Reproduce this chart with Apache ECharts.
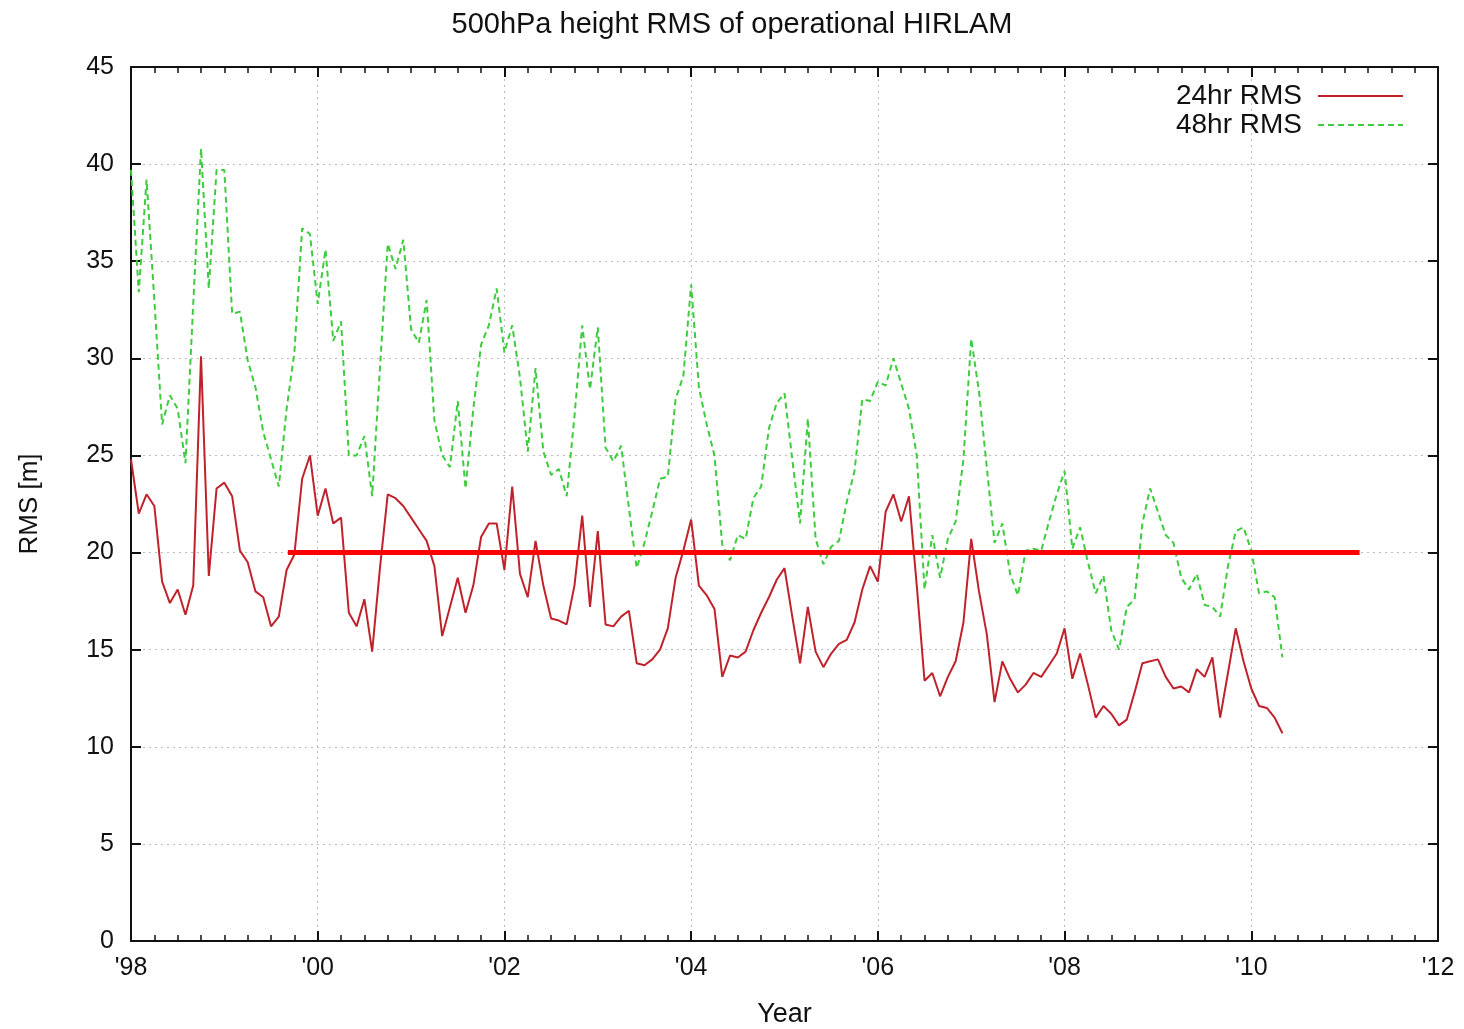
<!DOCTYPE html>
<html>
<head>
<meta charset="utf-8">
<title>500hPa height RMS of operational HIRLAM</title>
<script src="https://cdn.jsdelivr.net/npm/echarts@6/dist/echarts.min.js"></script>
<style>
    html, body { margin: 0; padding: 0; background: #fff; }
    #main { width: 1464px; height: 1029px; }
</style>
</head>
<body>
<div id="main"></div>
<script>
// monthly values, first point = Jan 1998
var startYear = 1998;
var rms24 = [
    24.8, 22.0, 23.0, 22.4, 18.5, 17.4, 18.1, 16.8, 18.3, 30.1, 18.8, 23.3,
    23.6, 22.9, 20.1, 19.5, 18.0, 17.7, 16.2, 16.7, 19.1, 19.9, 23.8, 25.0,
    21.9, 23.3, 21.5, 21.8, 16.9, 16.2, 17.6, 14.9, 19.2, 23.0, 22.8, 22.4,
    21.8, 21.2, 20.6, 19.3, 15.7, 17.2, 18.7, 16.9, 18.3, 20.8, 21.5, 21.5,
    19.1, 23.4, 18.9, 17.7, 20.6, 18.3, 16.6, 16.5, 16.3, 18.3, 21.9, 17.2,
    21.1, 16.3, 16.2, 16.7, 17.0, 14.3, 14.2, 14.5, 15.0, 16.1, 18.7, 20.1,
    21.7, 18.3, 17.8, 17.1, 13.6, 14.7, 14.6, 14.9, 16.0, 16.9, 17.7, 18.6,
    19.2, 16.7, 14.3, 17.2, 14.9, 14.1, 14.8, 15.3, 15.5, 16.4, 18.1, 19.3,
    18.5, 22.1, 23.0, 21.6, 22.9, 18.3, 13.4, 13.8, 12.6, 13.6, 14.4, 16.4,
    20.7, 18.0, 15.8, 12.3, 14.4, 13.5, 12.8, 13.2, 13.8, 13.6, 14.2, 14.8,
    16.1, 13.5, 14.8, 13.2, 11.5, 12.1, 11.7, 11.1, 11.4, 12.8, 14.3, 14.4,
    14.5, 13.6, 13.0, 13.1, 12.8, 14.0, 13.6, 14.6, 11.5, 13.8, 16.1, 14.4,
    13.0, 12.1, 12.0, 11.5, 10.7
];
var rms48 = [
    39.7, 33.4, 39.2, 33.0, 26.6, 28.1, 27.4, 24.6, 32.8, 40.8, 33.6, 39.7,
    39.7, 32.3, 32.4, 29.9, 28.5, 26.2, 24.8, 23.4, 27.4, 30.3, 36.7, 36.4,
    32.8, 35.6, 30.9, 31.9, 25.0, 25.0, 26.0, 22.9, 29.5, 35.9, 34.6, 36.1,
    31.5, 30.8, 33.0, 26.8, 25.0, 24.4, 27.8, 23.3, 27.4, 30.7, 31.7, 33.6,
    30.3, 31.7, 29.0, 25.2, 29.5, 25.2, 24.0, 24.3, 22.9, 27.0, 31.7, 28.4,
    31.6, 25.4, 24.7, 25.5, 22.3, 19.2, 20.5, 22.1, 23.8, 23.9, 27.9, 29.1,
    33.8, 28.5, 26.6, 25.0, 20.4, 19.6, 20.9, 20.7, 22.8, 23.4, 26.4, 27.7,
    28.2, 24.8, 21.5, 26.9, 20.7, 19.4, 20.3, 20.6, 22.6, 24.2, 27.9, 27.8,
    28.8, 28.6, 30.0, 28.7, 27.4, 25.0, 18.1, 20.9, 18.7, 20.7, 21.6, 24.8,
    31.0, 28.3, 24.4, 20.5, 21.5, 18.9, 17.8, 20.1, 20.2, 20.1, 21.6, 23.0,
    24.2, 20.2, 21.3, 19.5, 17.9, 18.8, 16.0, 15.0, 17.2, 17.6, 21.5, 23.3,
    22.1, 20.9, 20.5, 18.7, 18.1, 18.9, 17.3, 17.2, 16.7, 19.3, 21.1, 21.3,
    20.1, 17.9, 18.0, 17.7, 14.6
];
// red reference line at 20 m
var refX = [1999.68, 2011.16];
var refY = [20, 20];

var yTicks = [0, 5, 10, 15, 20, 25, 30, 35, 40, 45];

function toPairs(vals) {
    var out = [];
    for (var i = 0; i < vals.length; i++) {
        out.push([startYear + i / 12, vals[i]]);
    }
    return out;
}

var font = 'Liberation Sans, Arial, sans-serif';
var chart = echarts.init(document.getElementById('main'));

var xCommon = {
    type: 'value',
    min: 1998,
    max: 2012,
    interval: 2,
    axisLine: { show: true, onZero: false, lineStyle: { color: '#111', width: 2 } },
    axisTick: { show: true, inside: true, length: 10, lineStyle: { color: '#111', width: 2 } },
    minorTick: { show: true, splitNumber: 8, length: 6, lineStyle: { color: '#111', width: 1.5 } }
};

option = {
    backgroundColor: '#ffffff',
    animation: false,
    title: {
        text: '500hPa height RMS of operational HIRLAM',
        left: 'center',
        top: 5,
        textStyle: { fontFamily: font, fontSize: 29, fontWeight: 'normal', color: '#111' }
    },
    legend: {
        orient: 'vertical',
        right: 55,
        top: 77,
        align: 'right',
        itemWidth: 85,
        itemHeight: 14,
        itemGap: 1,
        data: ['24hr RMS', '48hr RMS'],
        itemStyle: { opacity: 0 },
        textStyle: { fontFamily: font, fontSize: 28, color: '#111', lineHeight: 28, padding: [0, 11, 0, 0] }
    },
    grid: { left: 131, right: 26, top: 67, bottom: 88, outerBoundsMode: 'none' },
    xAxis: [
        Object.assign({}, xCommon, {
            position: 'bottom',
            name: 'Year',
            nameLocation: 'middle',
            nameGap: 60,
            nameTextStyle: { fontFamily: font, fontSize: 27, color: '#111' },
            axisLabel: {
                fontFamily: font, fontSize: 25, color: '#111', margin: 15,
                formatter: function (v) { return "'" + String(v).slice(2); }
            },
            splitLine: { show: true, lineStyle: { color: '#bbb', type: [2, 4], width: 1 } }
        }),
        Object.assign({}, xCommon, {
            position: 'top',
            axisLabel: { show: false },
            splitLine: { show: false }
        })
    ],
    yAxis: [
        {
            type: 'value',
            min: 0,
            max: 45,
            interval: 5,
            position: 'left',
            name: 'RMS [m]',
            nameLocation: 'middle',
            nameGap: 88,
            nameTextStyle: { fontFamily: font, fontSize: 26, color: '#111' },
            axisLine: { show: true, lineStyle: { color: '#111', width: 2 } },
            axisTick: { show: true, inside: true, length: 10, lineStyle: { color: '#111', width: 2 } },
            axisLabel: {
                fontFamily: font, fontSize: 25, color: '#111', margin: 17,
                formatter: function (v) { return yTicks.indexOf(v) >= 0 ? String(v) : ''; }
            },
            splitLine: { show: true, lineStyle: { color: '#bbb', type: [2, 4], width: 1 } }
        },
        {
            type: 'value',
            min: 0,
            max: 45,
            interval: 5,
            position: 'right',
            axisLine: { show: true, lineStyle: { color: '#111', width: 2 } },
            axisTick: { show: true, inside: true, length: 10, lineStyle: { color: '#111', width: 2 } },
            axisLabel: { show: false },
            splitLine: { show: false }
        }
    ],
    series: [
        {
            name: '24hr RMS',
            type: 'line',
            symbol: 'none',
            data: toPairs(rms24),
            lineStyle: { color: '#c0222c', width: 2 },
            itemStyle: { color: '#c0222c' },
            z: 3
        },
        {
            name: '48hr RMS',
            type: 'line',
            symbol: 'none',
            data: toPairs(rms48),
            lineStyle: { color: '#3dcc3d', width: 2, type: [6, 4] },
            itemStyle: { color: '#3dcc3d' },
            z: 2
        },
        {
            name: 'ref',
            type: 'line',
            symbol: 'none',
            data: [[refX[0], refY[0]], [refX[1], refY[1]]],
            lineStyle: { color: '#ff0000', width: 5 },
            z: 4
        }
    ]
};

chart.setOption(option);
</script>
</body>
</html>
